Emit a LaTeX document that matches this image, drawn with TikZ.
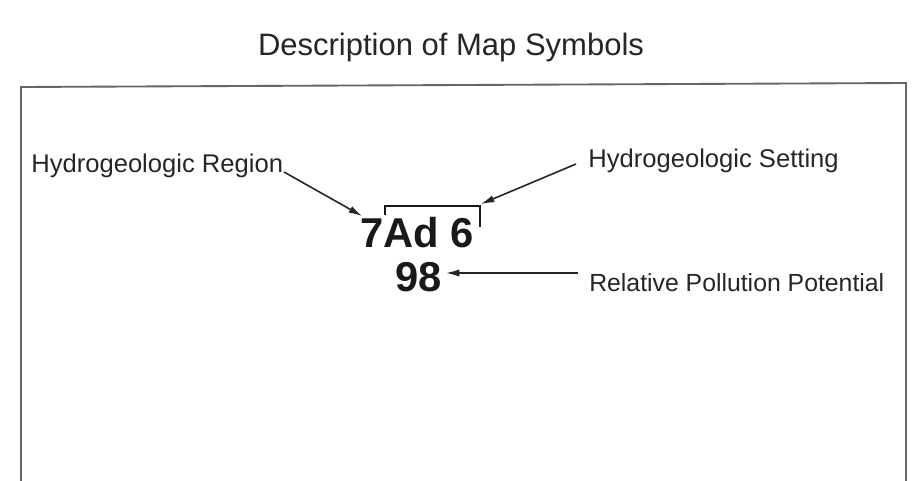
\documentclass[tikz,border=0pt]{standalone}
\usepackage{fontspec}
\setmainfont{Liberation Sans}
\usetikzlibrary{arrows.meta}
\begin{document}
\begin{tikzpicture}[x=0.75pt,y=-0.75pt,
  lbl/.style={inner sep=0pt, anchor=base west, text=black!85, font=\fontsize{19.2}{21}\selectfont},
  ttl/.style={inner sep=0pt, anchor=base, text=black!85, font=\fontsize{23.25}{25}\selectfont},
  big/.style={inner sep=0pt, anchor=base west, text=black!90, font=\fontsize{31.3}{33}\selectfont\bfseries},
  arr/.style={-{Latex[length=10pt,width=5.5pt]}, line width=1.2pt, black!85},
  frame/.style={line width=1.4pt, black!60}]
\useasboundingbox (0,0) rectangle (924,481);
\fill[white] (0,0) rectangle (924,481);
% frame
\draw[frame] (21,481) -- (21,87) -- (906,83) -- (906,481);
% title
\node[ttl] (title) at (451,56) {Description of Map Symbols};
% labels
\node[lbl] (region) at (31,172) {Hydrogeologic Region};
\node[lbl] (setting) at (588,167) {Hydrogeologic Setting};
\node[lbl, font=\fontsize{18.6}{20}\selectfont] (rpp) at (589,291) {Relative Pollution Potential};
% symbol
\node[big] (sym) at (360,247) {7Ad 6};
\node[big] (num) at (395,291) {98};
% bracket
\draw[line width=1.4pt, black!90] (385,215) -- (385,206) -- (480,206) -- (480,227);
% connector end points
\coordinate (rs) at (284,172);
\coordinate (rt) at (362,216);
\coordinate (ss) at (576,164);
\coordinate (st) at (481,204);
\coordinate (ps) at (578,273);
\coordinate (pt) at (446,273);
\draw[arr] (rs) -- (rt);
\draw[arr] (ss) -- (st);
\draw[arr] (ps) -- (pt);
\end{tikzpicture}
\end{document}
